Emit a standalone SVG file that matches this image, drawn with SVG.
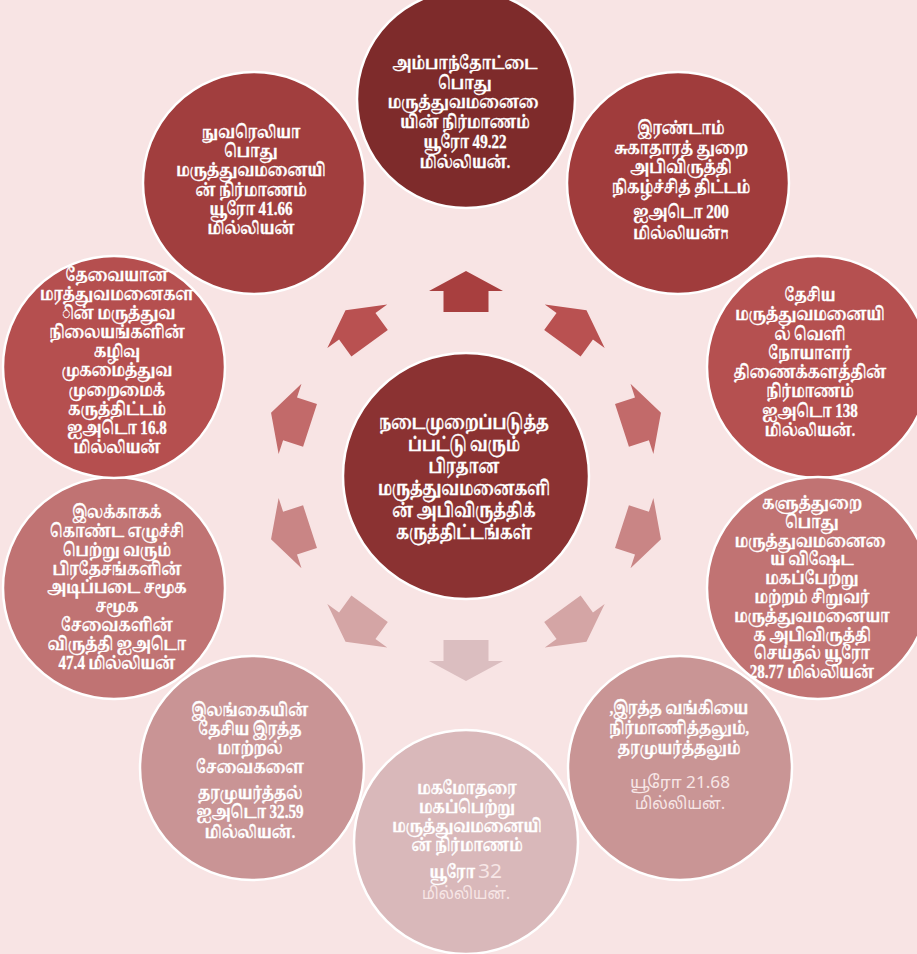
<svg xmlns="http://www.w3.org/2000/svg" width="917" height="954" viewBox="0 0 917 954">
<style>
.c{stroke:#fff;stroke-width:2.5}
.t{font-family:"Liberation Serif","Noto Serif Tamil","Noto Sans Tamil","Latha",serif;font-weight:bold;font-size:17px;fill:#fff;stroke:#fff;stroke-width:0.35;text-anchor:middle}
.ct{font-size:19px}
.d{font-size:18.5px}
.lt{font-family:"Noto Sans Tamil","Open Sans","Noto Sans",sans-serif;font-weight:normal;fill:#F7E6E6;font-size:17px;text-anchor:middle}
</style>
<defs>
<polygon id="arr" points="466,271 503,291 488.5,291 488.5,312 443.5,312 443.5,291 429,291"/>
</defs>
<rect width="917" height="954" fill="#F8E4E4"/>
<g id="connectors">
<use href="#arr" fill="#A83F3F"/>
<use href="#arr" fill="#B95151" transform="rotate(36 466 476)"/>
<use href="#arr" fill="#C26A6A" transform="rotate(72 466 476)"/>
<use href="#arr" fill="#C98585" transform="rotate(108 466 476)"/>
<use href="#arr" fill="#D4A5A5" transform="rotate(144 466 476)"/>
<use href="#arr" fill="#DBBEC0" transform="rotate(180 466 476)"/>
<use href="#arr" fill="#D4A5A5" transform="rotate(216 466 476)"/>
<use href="#arr" fill="#C98585" transform="rotate(252 466 476)"/>
<use href="#arr" fill="#C26A6A" transform="rotate(288 466 476)"/>
<use href="#arr" fill="#B95151" transform="rotate(324 466 476)"/>
</g>
<g id="n-center">
<circle class="c" cx="466" cy="476" r="123" fill="#8B3232"/>
<text class="t ct" transform="translate(464 0) scale(0.76 1)"><tspan x="0" y="429">நடைமுறைப்படுத்த</tspan><tspan x="0" y="451">ப்பட்டு வரும்</tspan><tspan x="0" y="473">பிரதான</tspan><tspan x="0" y="495">மருத்துவமனைகளி</tspan><tspan x="0" y="517">ன் அபிவிருத்திக்</tspan><tspan x="0" y="539">கருத்திட்டங்கள்</tspan></text>
</g>
<g id="n0">
<circle class="c" cx="466" cy="99" r="109" fill="#7E2B2B"/>
<text class="t" transform="translate(465 0) scale(0.815 1)"><tspan x="0" y="69">அம்பாந்தோட்டை</tspan><tspan x="0" y="89">பொது</tspan><tspan x="0" y="108">மருத்துவமனை&#160;ை</tspan><tspan x="0" y="128">யின் நிர்மாணம்</tspan><tspan x="0" y="148">யூரோ <tspan class="d">49.22</tspan></tspan><tspan x="0" y="168">மில்லியன்.</tspan></text>
</g>
<g id="n1">
<circle class="c" cx="678" cy="183" r="111" fill="#A03C3C"/>
<text class="t" transform="translate(681 0) scale(0.815 1)"><tspan x="0" y="134">இரண்டாம்</tspan><tspan x="0" y="154">சுகாதாரத் துறை</tspan><tspan x="0" y="173">அபிவிருத்தி</tspan><tspan x="0" y="193">நிகழ்ச்சித் திட்டம்</tspan><tspan x="0" y="218">ஐஅடொ <tspan class="d">200</tspan></tspan><tspan x="0" y="239">மில்லியன்ח</tspan></text>
</g>
<g id="n2">
<circle class="c" cx="818" cy="367" r="111" fill="#B55050"/>
<text class="t" transform="translate(810 0) scale(0.815 1)"><tspan x="0" y="301">தேசிய</tspan><tspan x="0" y="320">மருத்துவமனையி</tspan><tspan x="0" y="340">ல் வெளி</tspan><tspan x="0" y="359">நோயாளர்</tspan><tspan x="0" y="378">திணைக்களத்தின்</tspan><tspan x="0" y="397">நிர்மாணம்</tspan><tspan x="0" y="417">ஐஅடொ <tspan class="d">138</tspan></tspan><tspan x="0" y="436">மில்லியன்.</tspan></text>
</g>
<g id="n3">
<circle class="c" cx="818" cy="588" r="111" fill="#C17373"/>
<text class="t" transform="translate(812 0) scale(0.815 1)"><tspan x="0" y="509">களுத்துறை</tspan><tspan x="0" y="528">பொது</tspan><tspan x="0" y="547">மருத்துவமனை&#160;ை</tspan><tspan x="0" y="565">ய விஷேட</tspan><tspan x="0" y="584">மகப்பேற்று</tspan><tspan x="0" y="603">மற்றம் சிறுவர்</tspan><tspan x="0" y="622">மருத்துவமனையா</tspan><tspan x="0" y="641">க அபிவிருத்தி</tspan><tspan x="0" y="659">செய்தல் யூரோ</tspan><tspan x="0" y="678"><tspan class="d">28.77</tspan> மில்லியன்</tspan></text>
</g>
<g id="n4">
<circle class="c" cx="680" cy="768" r="112" fill="#C99595"/>
<text class="t" transform="translate(679 0) scale(0.815 1)"><tspan x="0" y="714">,இரத்த வங்கியை</tspan><tspan x="0" y="734">நிர்மாணித்தலும்,</tspan><tspan x="0" y="754">தரமுயர்த்தலும்</tspan></text>
<text class="lt" x="680" y="788" textLength="100" lengthAdjust="spacingAndGlyphs">யூரோ 21.68</text>
<text class="lt" x="680" y="809" textLength="90" lengthAdjust="spacingAndGlyphs">மில்லியன்.</text>
</g>
<g id="n5">
<circle class="c" cx="466" cy="842" r="112" fill="#D9B8BA"/>
<text class="t" transform="translate(467 0) scale(0.815 1)"><tspan x="0" y="794">மகமோதரை</tspan><tspan x="0" y="813">மகப்பெற்று</tspan><tspan x="0" y="832">மருத்துவமனையி</tspan><tspan x="0" y="851">ன் நிர்மாணம்</tspan><tspan x="-18" y="878">யூரோ</tspan></text>
<text class="lt" x="490" y="878" textLength="24" lengthAdjust="spacingAndGlyphs" style="font-size:20px">32</text>
<text class="lt" x="466" y="899" textLength="88" lengthAdjust="spacingAndGlyphs">மில்லியன்.</text>
</g>
<g id="n6">
<circle class="c" cx="252" cy="768" r="112" fill="#C99495"/>
<text class="t" transform="translate(250 0) scale(0.815 1)"><tspan x="0" y="716">இலங்கையின்</tspan><tspan x="0" y="735">தேசிய இரத்த</tspan><tspan x="0" y="754">மாற்றல்</tspan><tspan x="0" y="773">சேவைகளை</tspan><tspan x="0" y="799">தரமுயர்த்தல்</tspan><tspan x="0" y="818">ஐஅடொ <tspan class="d">32.59</tspan></tspan><tspan x="0" y="838">மில்லியன்.</tspan></text>
</g>
<g id="n7">
<circle class="c" cx="114" cy="588" r="111" fill="#C07373"/>
<text class="t" transform="translate(117 0) scale(0.815 1)"><tspan x="0" y="518">இலக்காகக்</tspan><tspan x="0" y="537">கொண்ட எழுச்சி</tspan><tspan x="0" y="556">பெற்று வரும்</tspan><tspan x="0" y="575">பிரதேசங்களின்</tspan><tspan x="0" y="593">அடிப்படை சமூக</tspan><tspan x="0" y="612">சமூக</tspan><tspan x="0" y="631">சேவைகளின்</tspan><tspan x="0" y="650">விருத்தி ஐஅடொ</tspan><tspan x="0" y="669"><tspan class="d">47.4</tspan> மில்லியன்</tspan></text>
</g>
<g id="n8">
<circle class="c" cx="114" cy="367" r="111" fill="#B54F4F"/>
<text class="t" transform="translate(117 0) scale(0.815 1)"><tspan x="0" y="281">தேவையான</tspan><tspan x="0" y="300">மரத்துவமனைகள</tspan><tspan x="0" y="319"> ின் மருத்துவ</tspan><tspan x="0" y="338">நிலையங்களின்</tspan><tspan x="0" y="357">கழிவு</tspan><tspan x="0" y="376">முகமைத்துவ</tspan><tspan x="0" y="396">முறைமைக்</tspan><tspan x="0" y="415">கருத்திட்டம்</tspan><tspan x="0" y="434">ஐஅடொ <tspan class="d">16.8</tspan></tspan><tspan x="0" y="453">மில்லியன்</tspan></text>
</g>
<g id="n9">
<circle class="c" cx="254" cy="183" r="111" fill="#A13E3E"/>
<text class="t" transform="translate(251 0) scale(0.815 1)"><tspan x="0" y="138">நுவரெலியா</tspan><tspan x="0" y="157">பொது</tspan><tspan x="0" y="176">மருத்துவமனையி</tspan><tspan x="0" y="196">ன் நிர்மாணம்</tspan><tspan x="0" y="215">யூரோ <tspan class="d">41.66</tspan></tspan><tspan x="0" y="234">மில்லியன்</tspan></text>
</g>
</svg>
